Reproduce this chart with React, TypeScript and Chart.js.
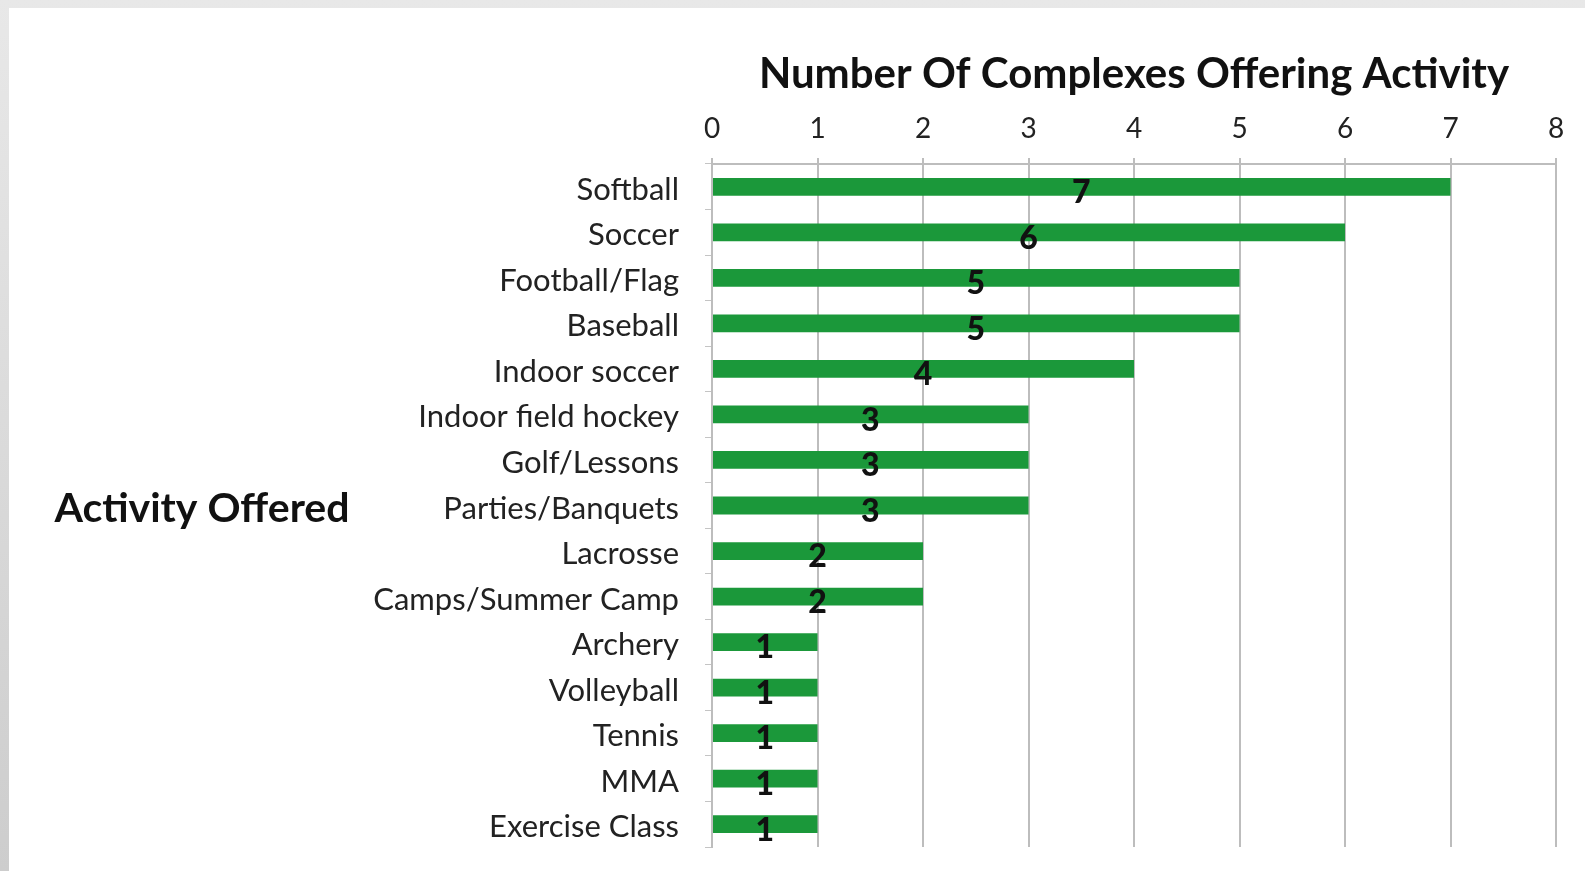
import React, { useEffect, useRef } from "react";
import { Chart, registerables } from "chart.js";

Chart.register(...registerables);

const categories = [
  "Softball",
  "Soccer",
  "Football/Flag",
  "Baseball",
  "Indoor soccer",
  "Indoor field hockey",
  "Golf/Lessons",
  "Parties/Banquets",
  "Lacrosse",
  "Camps/Summer Camp",
  "Archery",
  "Volleyball",
  "Tennis",
  "MMA",
  "Exercise Class",
];
const values = [7, 6, 5, 5, 4, 3, 3, 3, 2, 2, 1, 1, 1, 1, 1];
const xTickValues = [0, 1, 2, 3, 4, 5, 6, 7, 8];
const xTitle = "Number Of Complexes Offering Activity";
const yTitle = "Activity Offered";

const FONT = "Lato, 'Open Sans', sans-serif";

const labelsPlugin = {
  id: "customLabels",
  afterDatasetsDraw(chart: any) {
    const { ctx } = chart;
    const meta = chart.getDatasetMeta(0);
    const xs = chart.scales.x;
    ctx.save();
    ctx.fillStyle = "#111";
    ctx.font = `900 32px ${FONT}`;
    ctx.textAlign = "center";
    ctx.textBaseline = "middle";
    meta.data.forEach((bar: any, i: number) => {
      const v = values[i];
      const cx = xs.getPixelForValue(v / 2);
      ctx.fillText(String(v), cx, bar.y + 6);
    });
    ctx.restore();
  },
  afterDraw(chart: any) {
    const { ctx, chartArea } = chart;
    ctx.save();
    ctx.fillStyle = "#111";
    ctx.font = `bold 42px ${FONT}`;
    ctx.textAlign = "center";
    ctx.textBaseline = "middle";
    ctx.fillText(xTitle, (chartArea.left + chartArea.right) / 2, 66);
    ctx.font = `bold 41px ${FONT}`;
    ctx.fillText(yTitle, 193, 501);
    ctx.restore();
  },
};

export default function App() {
  const ref = useRef<HTMLCanvasElement>(null);
  useEffect(() => {
    if (!ref.current) return;
    const chart = new Chart(ref.current, {
      type: "bar",
      data: {
        labels: categories,
        datasets: [
          {
            data: values,
            backgroundColor: "#1b983a",
            borderWidth: 0,
            categoryPercentage: 1,
            barPercentage: 0.39,
          },
        ],
      },
      options: {
        indexAxis: "y",
        animation: false,
        responsive: false,
        maintainAspectRatio: false,
        layout: { padding: { top: 0, right: 29, bottom: 24, left: 0 } },
        plugins: { legend: { display: false }, tooltip: { enabled: false } },
        scales: {
          x: {
            position: "top",
            min: 0,
            max: 8,
            afterBuildTicks: (s: any) => {
              s.ticks = xTickValues.map((v) => ({ value: v }));
            },
            afterFit: (s: any) => {
              s.height = 156;
            },
            ticks: {
              color: "#222",
              font: { family: FONT, size: 28 },
              padding: 12,
            },
            grid: {
              color: "#bdbdbd",
              lineWidth: 2,
              tickLength: 6,
            },
            border: { color: "#bdbdbd", width: 2 },
          },
          y: {
            afterFit: (s: any) => {
              s.width = 703;
              s.paddingTop = 0;
              s.paddingBottom = 0;
            },
            ticks: {
              color: "#222",
              font: { family: FONT, size: 31 },
              padding: 26,
              labelOffset: 3,
            },
            grid: {
              drawOnChartArea: false,
              color: "#c4c4c4",
              lineWidth: 1,
              tickLength: 7,
            },
            border: { color: "#bdbdbd", width: 2 },
          },
        },
      },
      plugins: [labelsPlugin],
    });
    return () => chart.destroy();
  }, []);

  return (
    <div
      style={{
        position: "fixed",
        left: 0,
        top: 0,
        width: 1585,
        height: 871,
        background: "linear-gradient(#e8e8e8, #cdcdcd)",
      }}
    >
      <div
        style={{
          position: "absolute",
          left: 9,
          top: 8,
          width: 1576,
          height: 863,
          background: "#fff",
        }}
      >
        <canvas ref={ref} width={1576} height={863} style={{ display: "block" }} />
      </div>
    </div>
  );
}
